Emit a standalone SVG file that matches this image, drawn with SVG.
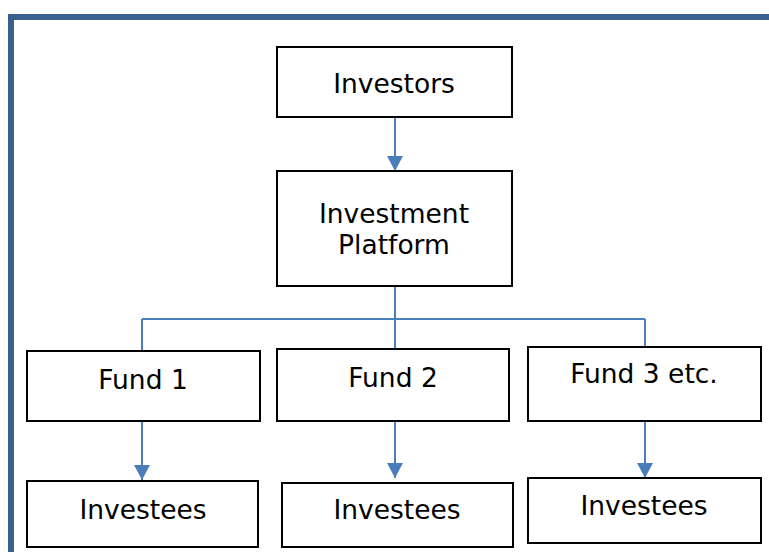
<svg xmlns="http://www.w3.org/2000/svg" width="769" height="552" viewBox="0 0 769 552">
<defs>
<style>
.box{fill:#fff;stroke:#000;stroke-width:2}
.lbl{font-family:"DejaVu Sans","Liberation Sans",sans-serif;font-size:26.5px;fill:#000;text-anchor:middle}
.con{fill:none;stroke:#4A7EBB;stroke-width:2}
</style>
<marker id="ah" markerUnits="userSpaceOnUse" markerWidth="15" markerHeight="16" refX="15" refY="8" orient="auto" viewBox="0 0 15 16">
<path d="M0,0 L15,8 L0,16 Z" fill="#4A7EBB"/>
</marker>
</defs>
<rect width="769" height="552" fill="#fff"/>
<path d="M11 552 V17 H769" fill="none" stroke="#3A6090" stroke-width="6"/>
<g id="connectors">
<line class="con" x1="395" y1="117" x2="395" y2="171" marker-end="url(#ah)"/>
<line class="con" x1="395" y1="286" x2="395" y2="349"/>
<line class="con" x1="142" y1="319" x2="645" y2="319"/>
<line class="con" x1="142" y1="319" x2="142" y2="351"/>
<line class="con" x1="645" y1="319" x2="645" y2="347"/>
<line class="con" x1="142" y1="421" x2="142" y2="480" marker-end="url(#ah)"/>
<line class="con" x1="395" y1="421" x2="395" y2="478" marker-end="url(#ah)"/>
<line class="con" x1="645" y1="421" x2="645" y2="478" marker-end="url(#ah)"/>
</g>
<g id="investors">
<rect class="box" x="277" y="47" width="235" height="70"/>
<text class="lbl" x="394" y="93">Investors</text>
</g>
<g id="platform">
<rect class="box" x="277" y="171" width="235" height="115"/>
<text class="lbl" x="394" y="223">Investment</text>
<text class="lbl" x="394" y="254">Platform</text>
</g>
<g id="fund1">
<rect class="box" x="27" y="351" width="233" height="70"/>
<text class="lbl" x="143" y="389">Fund 1</text>
</g>
<g id="fund2">
<rect class="box" x="277" y="349" width="232" height="72"/>
<text class="lbl" x="393" y="387">Fund 2</text>
</g>
<g id="fund3">
<rect class="box" x="528" y="347" width="233" height="74"/>
<text class="lbl" x="644" y="383">Fund 3 etc.</text>
</g>
<g id="investees1">
<rect class="box" x="27" y="481" width="231" height="66"/>
<text class="lbl" x="143" y="519">Investees</text>
</g>
<g id="investees2">
<rect class="box" x="282" y="483" width="231" height="64"/>
<text class="lbl" x="397" y="519">Investees</text>
</g>
<g id="investees3">
<rect class="box" x="528" y="478" width="233" height="65"/>
<text class="lbl" x="644" y="515">Investees</text>
</g>
</svg>
